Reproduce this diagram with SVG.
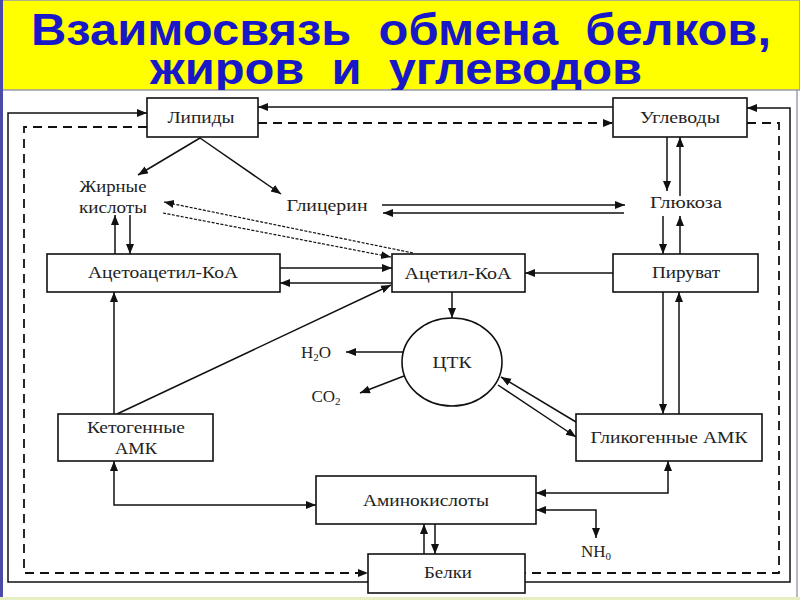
<svg xmlns="http://www.w3.org/2000/svg" width="800" height="600" viewBox="0 0 800 600">
<defs>
<style>
.box{fill:#fff;stroke:#111;stroke-width:1.6}
.lbl{font-family:"Liberation Serif","Times New Roman",serif;font-size:17px;fill:#222;text-anchor:middle}
.c{fill:none;stroke:#111;stroke-width:1.5}
.a{marker-end:url(#ah)}
.b{marker-start:url(#ah);marker-end:url(#ah)}
.d{stroke-dasharray:9,6;stroke-width:1.8}
.dot{stroke-dasharray:3,1.5;stroke-width:1.2}
.title{font-family:"Liberation Sans",Arial,sans-serif;font-weight:bold;font-size:45px;fill:#1818c8;white-space:pre}
</style>
<marker id="ah" markerUnits="userSpaceOnUse" markerWidth="11" markerHeight="9" refX="10" refY="4" orient="auto-start-reverse">
<path d="M0,0 L10,4 L0,8 z" fill="#111"/>
</marker>
<clipPath id="band"><rect x="0" y="0" width="800" height="90"/></clipPath>
</defs>
<rect x="0" y="0" width="800" height="600" fill="#fff"/>
<g id="header">
<rect x="0" y="0" width="800" height="90" fill="#ffff00" stroke="#9a9aa8" stroke-width="1.5"/>
<g clip-path="url(#band)">
<text class="title" x="401" y="45" text-anchor="middle" textLength="740" lengthAdjust="spacingAndGlyphs" xml:space="preserve">Взаимосвязь  обмена  белков,</text>
<text class="title" x="396" y="84" text-anchor="middle" textLength="492" lengthAdjust="spacingAndGlyphs" xml:space="preserve">жиров  и  углеводов</text>
</g>
</g>
<g id="frame">
<line x1="1.5" y1="0" x2="1.5" y2="600" stroke="#4a4aa8" stroke-width="3"/>
<line x1="797" y1="90" x2="797" y2="597" stroke="#a0a0b0" stroke-width="1.5"/>
<rect x="0" y="597" width="800" height="3" fill="#e6efc2"/>
</g>
<g id="connectors">
<path class="c a" d="M368,582 H8 V113 H147"/>
<path class="c a" d="M525,582 H790 V108 H747"/>
<path class="c a" d="M613,107 H258"/>
<path class="c d a" d="M147,127 H24 V573 H368"/>
<path class="c d a" d="M258,123 H613"/>
<path class="c d" d="M747,123 H779 V573 H525"/>
<path class="c a" d="M200,138 L138,175"/>
<path class="c a" d="M200,138 L281,194"/>
<path class="c a" d="M115,254 V215"/>
<path class="c a" d="M130,215 V254"/>
<path class="c dot a" d="M413,253 L164,202"/>
<path class="c dot a" d="M163,213 L391,257"/>
<path class="c a" d="M382,205 H625"/>
<path class="c a" d="M624,213 H383"/>
<path class="c a" d="M667,137 V191"/>
<path class="c a" d="M680,196 V137"/>
<path class="c a" d="M663,216 V254"/>
<path class="c a" d="M680,254 V216"/>
<path class="c a" d="M613,273 H525"/>
<path class="c a" d="M280,268 H392"/>
<path class="c a" d="M392,283 H280"/>
<path class="c a" d="M117,414 L391,285"/>
<path class="c a" d="M114,414 V292"/>
<path class="c a" d="M452,292 V318"/>
<path class="c a" d="M403,352 H346"/>
<path class="c a" d="M404,376 L360,393"/>
<path class="c a" d="M576,422 L501,377"/>
<path class="c a" d="M498,385 L576,437"/>
<path class="c a" d="M663,292 V414"/>
<path class="c a" d="M679,414 V292"/>
<path class="c b" d="M114,461 V505 H316"/>
<path class="c b" d="M668,461 V493 H536"/>
<path class="c b" d="M596,538 V510 H536"/>
<path class="c a" d="M424,554 V524"/>
<path class="c a" d="M435,524 V554"/>
</g>
<g id="n-lipidy"><rect class="box" x="147" y="98" width="111" height="39"/><text class="lbl" x="201" y="123" textLength="67" lengthAdjust="spacingAndGlyphs">Липиды</text></g>
<g id="n-uglevody"><rect class="box" x="613" y="98" width="134" height="39"/><text class="lbl" x="680" y="123" textLength="80" lengthAdjust="spacingAndGlyphs">Углеводы</text></g>
<g id="n-zhirnye"><text class="lbl" x="113" y="192" textLength="67" lengthAdjust="spacingAndGlyphs">Жирные</text><text class="lbl" x="113" y="213" textLength="68" lengthAdjust="spacingAndGlyphs">кислоты</text></g>
<g id="n-glicerin"><text class="lbl" x="327" y="211" textLength="81" lengthAdjust="spacingAndGlyphs">Глицерин</text></g>
<g id="n-glukoza"><text class="lbl" x="686" y="208" textLength="72" lengthAdjust="spacingAndGlyphs">Глюкоза</text></g>
<g id="n-acetoacetil"><rect class="box" x="47" y="254" width="233" height="38"/><text class="lbl" x="163" y="278" textLength="150" lengthAdjust="spacingAndGlyphs">Ацетоацетил-КоА</text></g>
<g id="n-acetil"><rect class="box" x="392" y="254" width="133" height="38"/><text class="lbl" x="458" y="279" textLength="107" lengthAdjust="spacingAndGlyphs">Ацетил-КоА</text></g>
<g id="n-piruvat"><rect class="box" x="613" y="254" width="145" height="38"/><text class="lbl" x="686" y="278" textLength="68" lengthAdjust="spacingAndGlyphs">Пируват</text></g>
<g id="n-ctk"><ellipse class="box" cx="452" cy="362" rx="50" ry="44"/><text class="lbl" x="452" y="368" textLength="39" lengthAdjust="spacingAndGlyphs">ЦТК</text></g>
<g id="n-h2o"><text class="lbl" x="316" y="358">H<tspan font-size="11" dy="3">2</tspan><tspan dy="-3">O</tspan></text></g>
<g id="n-co2"><text class="lbl" x="326" y="402">CO<tspan font-size="11" dy="3">2</tspan></text></g>
<g id="n-ketogennye"><rect class="box" x="58" y="414" width="155" height="47"/><text class="lbl" x="136" y="433" textLength="98" lengthAdjust="spacingAndGlyphs">Кетогенные</text><text class="lbl" x="136" y="454" textLength="42" lengthAdjust="spacingAndGlyphs">АМК</text></g>
<g id="n-glikogennye"><rect class="box" x="576" y="414" width="186" height="47"/><text class="lbl" x="669" y="443" textLength="157" lengthAdjust="spacingAndGlyphs">Гликогенные АМК</text></g>
<g id="n-aminokisloty"><rect class="box" x="316" y="476" width="220" height="48"/><text class="lbl" x="426" y="506" textLength="126" lengthAdjust="spacingAndGlyphs">Аминокислоты</text></g>
<g id="n-nh0"><text class="lbl" x="596" y="557">NH<tspan font-size="11" dy="3">0</tspan></text></g>
<g id="n-belki"><rect class="box" x="368" y="554" width="157" height="39"/><text class="lbl" x="448" y="578" textLength="48" lengthAdjust="spacingAndGlyphs">Белки</text></g>
</svg>
